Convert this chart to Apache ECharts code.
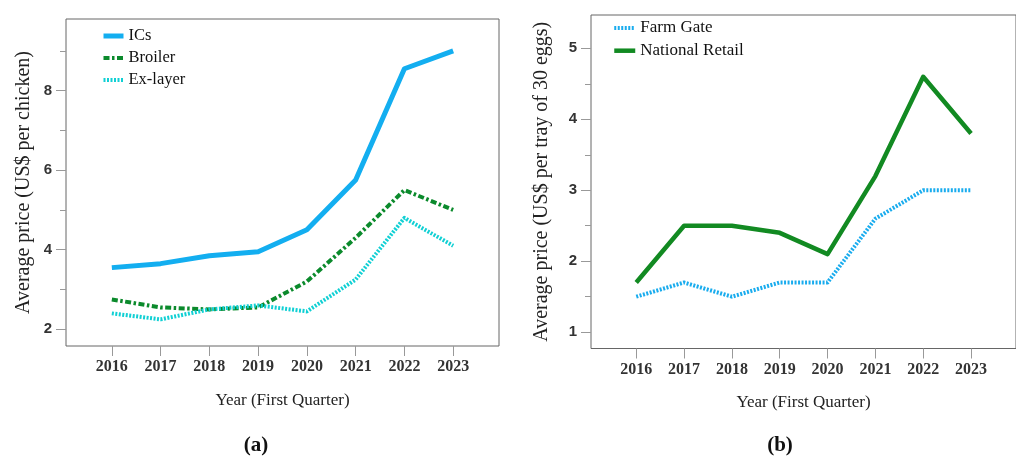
<!DOCTYPE html>
<html>
<head>
<meta charset="utf-8">
<script src="https://cdn.jsdelivr.net/npm/echarts@6/dist/echarts.min.js"></script>
<style>
  html, body { margin: 0; padding: 0; background: #fff; }
  #chart { width: 1016px; height: 457px; }
</style>
</head>
<body>
<div id="chart"></div>
<script>
// Years on both panels (first quarter of each year)
const years = [2016, 2017, 2018, 2019, 2020, 2021, 2022, 2023];

// (a) Average price, US$ per chicken
const ics = [3.55, 3.65, 3.85, 3.95, 4.5, 5.75, 8.55, 9.0];
const broiler = [2.75, 2.55, 2.5, 2.55, 3.2, 4.3, 5.5, 5.0];
const exLayer = [2.4, 2.25, 2.5, 2.6, 2.45, 3.25, 4.8, 4.1];

// (b) Average price, US$ per tray of 30 eggs
const farmGate = [1.5, 1.7, 1.5, 1.7, 1.7, 2.6, 3.0, 3.0];
const nationalRetail = [1.7, 2.5, 2.5, 2.4, 2.1, 3.2, 4.6, 3.8];

// Axis ticks
const leftMajorTicks = [2, 4, 6, 8];
const leftMinorTicks = [3, 5, 7, 9];
const rightMajorTicks = [1, 2, 3, 4, 5];
const rightMinorTicks = [1.5, 2.5, 3.5, 4.5];

const SERIF = "'Liberation Serif', 'DejaVu Serif', serif";
const SANS = "'Liberation Sans', Arial, sans-serif";

// Line styles per series, shared by the plotted line and its legend key
const styles = {
  'ICs': { width: 5, color: '#13aef0', type: 'solid' },
  'Broiler': { width: 4, color: '#0b8a2c', type: [6, 2.5, 2.5, 2.5] },
  'Ex-layer': { width: 4, color: '#10d0d4', type: [2, 1.5] },
  'Farm Gate': { width: 4, color: '#19acee', type: [2, 1.5] },
  'National Retail': { width: 4.5, color: '#128a22', type: 'solid' }
};

const pairs = vals => years.map((y, i) => [y, vals[i]]);

function xAxisFor(gridIndex, min, max) {
  return {
    type: 'value', gridIndex, min, max,
    axisLine: { show: false },
    splitLine: { show: false },
    axisTick: { customValues: years, length: 10, lineStyle: { color: '#999', width: 1 } },
    axisLabel: {
      customValues: years, margin: 13, formatter: v => String(v),
      fontFamily: SERIF, fontWeight: 'bold', fontSize: 16, color: '#333'
    },
    name: 'Year (First Quarter)', nameLocation: 'middle', nameGap: 46,
    nameTextStyle: { fontFamily: SERIF, fontSize: 17, color: '#222' }
  };
}

function yAxisFor(gridIndex, min, max, major, name, nameGap) {
  return {
    type: 'value', gridIndex, min, max, position: 'left',
    axisLine: { show: false },
    splitLine: { show: false },
    axisTick: { customValues: major, length: 10, lineStyle: { color: '#999', width: 1 } },
    axisLabel: {
      customValues: major, margin: 14,
      fontFamily: SANS, fontWeight: 'bold', fontSize: 15, color: '#333'
    },
    name, nameLocation: 'middle', nameGap,
    nameTextStyle: { fontFamily: SERIF, fontSize: 20, color: '#222' }
  };
}

function minorYAxisFor(gridIndex, min, max, minor) {
  return {
    type: 'value', gridIndex, min, max, position: 'left', offset: 0,
    axisLine: { show: false },
    splitLine: { show: false },
    axisLabel: { show: false },
    axisTick: { customValues: minor, length: 6, lineStyle: { color: '#999', width: 1 } }
  };
}

const legendText = size => ({ fontFamily: SERIF, fontSize: size, color: '#111', lineHeight: 18 });

// Legend keys show only the line sample, no marker
const legendItems = names => names.map(name => ({
  name,
  itemStyle: { opacity: 0 },
  lineStyle: { width: styles[name].width, type: styles[name].type, color: styles[name].color, cap: 'butt' }
}));

const legendBase = { orient: 'vertical', padding: 0, itemHeight: 14 };

const panelLabel = (letter, x) => ({
  text: '{p|(}{b|' + letter + '}{p|)}', left: x, top: 435, textAlign: 'center', padding: 0,
  textStyle: { rich: {
    p: { fontFamily: SERIF, fontSize: 21, color: '#111' },
    b: { fontFamily: SERIF, fontSize: 21, fontWeight: 'bold', color: '#111' }
  } }
});

const lineSeries = (name, values, xi, yi) => ({
  name, type: 'line', xAxisIndex: xi, yAxisIndex: yi, data: pairs(values),
  symbol: 'none', color: styles[name].color,
  lineStyle: Object.assign({ join: 'round' }, styles[name])
});

const option = {
  backgroundColor: '#fff',
  animation: false,
  grid: [
    { left: 66, top: 19, width: 433, height: 327, show: true, borderColor: '#666', borderWidth: 1, backgroundColor: 'transparent' },
    { left: 591, top: 15, width: 435, height: 333.5, show: true, borderColor: '#666', borderWidth: 1, backgroundColor: 'transparent' }
  ],
  xAxis: [
    xAxisFor(0, 2015.06, 2023.94),
    xAxisFor(1, 2015.054, 2023.94)
  ],
  yAxis: [
    yAxisFor(0, 1.58, 9.8, leftMajorTicks, 'Average price (US$ per chicken)', 32),
    minorYAxisFor(0, 1.58, 9.8, leftMinorTicks),
    yAxisFor(1, 0.77, 5.47, rightMajorTicks, 'Average price (US$ per tray of 30 eggs)', 39),
    minorYAxisFor(1, 0.77, 5.47, rightMinorTicks)
  ],
  legend: [
    Object.assign({}, legendBase, {
      data: legendItems(['ICs', 'Broiler', 'Ex-layer']),
      left: 101, top: 27, itemWidth: 20, itemGap: 4,
      textStyle: legendText(16.5)
    }),
    Object.assign({}, legendBase, {
      data: legendItems(['Farm Gate', 'National Retail']),
      left: 612, top: 19, itemWidth: 21, itemGap: 4.7,
      textStyle: legendText(17)
    })
  ],
  title: [panelLabel('a', 256), panelLabel('b', 780)],
  series: [
    lineSeries('ICs', ics, 0, 0),
    lineSeries('Broiler', broiler, 0, 0),
    lineSeries('Ex-layer', exLayer, 0, 0),
    lineSeries('Farm Gate', farmGate, 1, 2),
    lineSeries('National Retail', nationalRetail, 1, 2)
  ]
};

const chart = echarts.init(document.getElementById('chart'), null, { renderer: 'canvas' });
chart.setOption(option);
</script>
</body>
</html>
